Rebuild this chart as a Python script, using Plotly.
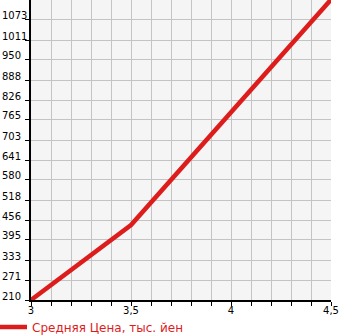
import plotly.graph_objects as go

x_vals = [3, 3.5, 4.5]
price = [210, 441, 1136]
y_ticks = [210, 271, 333, 395, 456, 518, 580, 641, 703, 765, 826, 888, 950, 1011, 1073]
y_labels = ["210", "271", "333", "395", "456", "518", "580", "641", "703", "765", "826", "888", "950", "1011", "1073"]
x_ticks = [3, 3.5, 4, 4.5]
x_labels = ["3", "3,5", "4", "4,5"]
series_name = "Средняя Цена, тыс. йен"

RED = "#dd1c1c"

fig = go.Figure()
fig.add_trace(go.Scatter(x=x_vals, y=price, mode="lines", name=series_name,
                         line=dict(color=RED, width=4.5), cliponaxis=True))

fig.update_layout(
    width=345, height=335,
    margin=dict(l=31, r=14, t=0, b=35, autoexpand=False),
    paper_bgcolor="white", plot_bgcolor="#f5f5f5",
    font=dict(family="DejaVu Sans", size=10, color="black"),
    showlegend=True,
    legend=dict(orientation="h", x=-0.13, xanchor="left", y=-0.042, yanchor="top",
                font=dict(size=12, color=RED), itemwidth=30, bgcolor="rgba(0,0,0,0)"),
    separators=", ",
)
fig.update_xaxes(range=[3, 4.5], tickvals=x_ticks, ticktext=x_labels,
                 ticks="outside", ticklen=4, tickcolor="black", ticklabelstandoff=-4,
                 showline=True, linecolor="black", linewidth=2,
                 showgrid=True, gridcolor="#c4c4c4", gridwidth=1,
                 minor=dict(dtick=0.1, tick0=3, ticks="outside", ticklen=4, tickcolor="black",
                            showgrid=True, gridcolor="#c4c4c4", gridwidth=1),
                 zeroline=False, fixedrange=True, automargin=False)
fig.update_yaxes(range=[210, 1134.6], tickvals=y_ticks, showticklabels=False,
                 ticks="outside", ticklen=4, tickcolor="black",
                 showline=True, linecolor="black", linewidth=2,
                 showgrid=True, gridcolor="#c4c4c4", gridwidth=1,
                 zeroline=False, fixedrange=True, automargin=False)

for v, t in zip(y_ticks, y_labels):
    fig.add_annotation(x=0, xref="paper", xshift=-31, xanchor="left",
                       y=v, yref="y", yanchor="middle", yshift=4,
                       text=t, showarrow=False, font=dict(size=10, color="black"))

fig.write_html("out.html")
